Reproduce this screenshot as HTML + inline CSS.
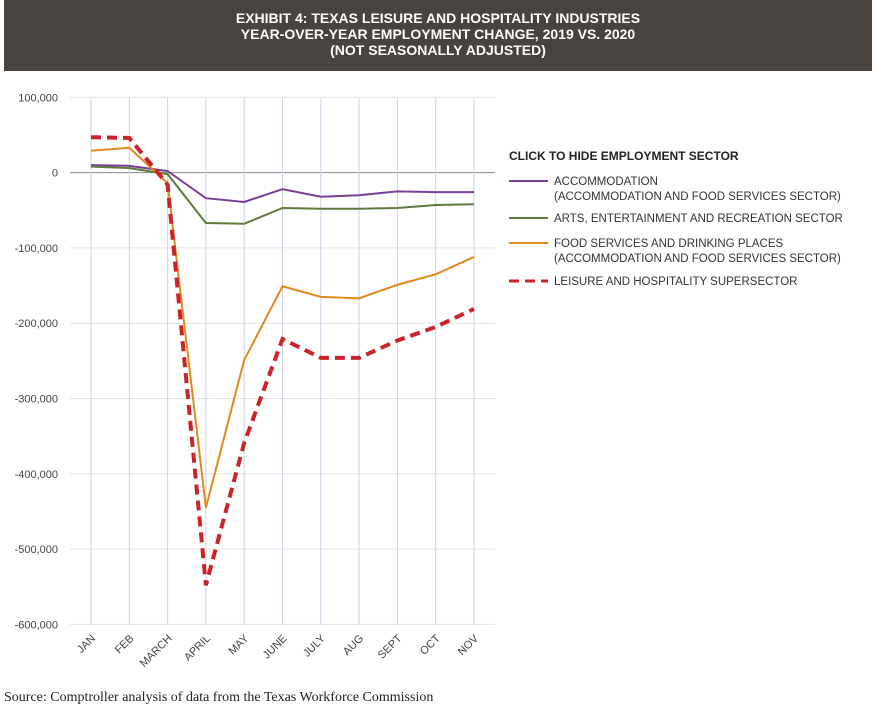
<!DOCTYPE html>
<html><head><meta charset="utf-8"><style>
body{margin:0;width:876px;height:717px;background:#fff;font-family:"Liberation Sans",sans-serif;overflow:hidden;position:relative}
#hdr{position:absolute;left:4px;top:0;width:868px;height:71px;background:#48433f;color:#fff;font-weight:bold;font-size:14px;text-align:center;line-height:16px;padding-top:10px;box-sizing:border-box}
#src{position:absolute;left:4px;top:690px;font-family:"Liberation Serif",serif;font-size:14px;color:#222}
</style></head><body>
<div id="hdr">EXHIBIT 4: TEXAS LEISURE AND HOSPITALITY INDUSTRIES<br>YEAR-OVER-YEAR EMPLOYMENT CHANGE, 2019 VS. 2020<br>(NOT SEASONALLY ADJUSTED)</div>
<svg id="chart" width="876" height="717" style="position:absolute;left:0;top:0"></svg>
<div id="src">Source: Comptroller analysis of data from the Texas Workforce Commission</div>
<script>
const months=["JAN","FEB","MARCH","APRIL","MAY","JUNE","JULY","AUG","SEPT","OCT","NOV"];
const yTicks=[100000,0,-100000,-200000,-300000,-400000,-500000,-600000];
const accommodation=[10000,9000,2000,-34000,-39000,-22000,-32000,-30000,-25000,-26000,-26000];
const arts=[8000,6000,-2000,-67000,-68000,-47000,-48000,-48000,-47000,-43000,-42000];
const food=[29000,33000,-14000,-445000,-249000,-151000,-165000,-167000,-149000,-135000,-112000];
const leisure=[47000,46000,-16000,-548000,-359000,-221000,-246000,-246000,-223000,-205000,-181000];
const svg=document.getElementById('chart');const NS="http://www.w3.org/2000/svg";
function X(i){return 91+i*38.3;}
function Y(v){return 172.6-v/100000*75.3;}
function mk(t,a){const e=document.createElementNS(NS,t);for(const k in a)e.setAttribute(k,a[k]);svg.appendChild(e);return e;}
yTicks.forEach(v=>{
 const l=mk('line',{x1:70,x2:495,y1:Y(v),y2:Y(v),stroke:v===0?'#888':'#e4e4e4','stroke-width':1});
 
 
 const t=mk('text',{x:58,y:Y(v)+4,'text-anchor':'end','font-size':11,fill:'#444'});
 t.textContent=v.toLocaleString('en-US');
 
 
});
months.forEach((m,i)=>{
 const l=mk('line',{x1:X(i),x2:X(i),y1:98,y2:625,stroke:'#c9d3e6','stroke-width':1});
 
 
 const t=mk('text',{x:X(i)+5,y:639,'text-anchor':'end','font-size':11,fill:'#444',transform:`rotate(-45 ${X(i)+5} 639)`});
 t.textContent=m;
 
 
});
const series=[
 {d:accommodation,c:'#7b3f98',w:2,dash:'',n:'accommodation-line',lab:['ACCOMMODATION','(ACCOMMODATION AND FOOD SERVICES SECTOR)']},
 {d:arts,c:'#5f7a3a',w:2,dash:'',n:'arts-line',lab:['ARTS, ENTERTAINMENT AND RECREATION SECTOR']},
 {d:food,c:'#df8a1c',w:2,dash:'',n:'food-services-line',lab:['FOOD SERVICES AND DRINKING PLACES','(ACCOMMODATION AND FOOD SERVICES SECTOR)']},
 {d:leisure,c:'#cc2229',w:4,dash:'10,6',n:'leisure-line',lab:['LEISURE AND HOSPITALITY SUPERSECTOR']}];
series.forEach(s=>{
 const p=mk('polyline',{points:s.d.map((v,i)=>X(i)+','+Y(v)).join(' '),fill:'none',stroke:s.c,'stroke-width':s.w,'stroke-dasharray':s.dash});
 
 
});
const lt=mk('text',{x:509,y:160,'font-size':12,'font-weight':'bold',fill:'#222'});
lt.textContent='CLICK TO HIDE EMPLOYMENT SECTOR';


const ly=[185,222,247,285];
series.forEach((s,k)=>{
 const g=document.createElementNS(NS,'g');svg.appendChild(g);
 
 
 const l=document.createElementNS(NS,'line');
 [['x1',509],['x2',548],['y1',ly[k]-4],['y2',ly[k]-4],['stroke',s.c],['stroke-width',s.w===4?3:2],['stroke-dasharray',s.dash]].forEach(a=>l.setAttribute(a[0],a[1]));
 g.appendChild(l);
 s.lab.forEach((t,j)=>{const e=document.createElementNS(NS,'text');e.setAttribute('x',554);e.setAttribute('y',ly[k]+j*15);e.setAttribute('font-size',11.5);e.setAttribute('fill','#333');e.textContent=t;g.appendChild(e);});
});
</script>
</body></html>
